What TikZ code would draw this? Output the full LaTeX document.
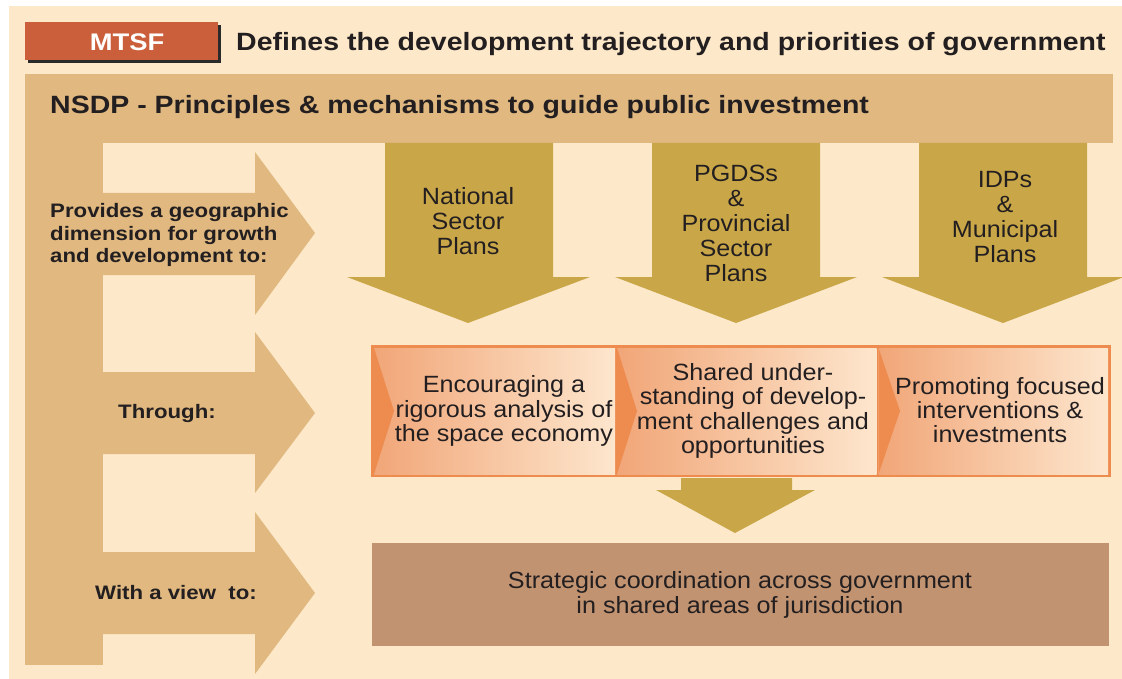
\documentclass[tikz,border=0pt]{standalone}
\usepackage{fontspec}
\setmainfont{Liberation Sans}[FakeStretch=1.07]
\newfontfamily\bfam{Liberation Sans}[FakeStretch=1.14]
\definecolor{bgc}{HTML}{FDE9C9}
\definecolor{band}{HTML}{E0B880}
\definecolor{gold}{HTML}{C9A648}
\definecolor{orng}{HTML}{EE8B4F}
\definecolor{panelL}{HTML}{F1A678}
\definecolor{panelR}{HTML}{FDE6CD}
\definecolor{boxc}{HTML}{C29371}
\definecolor{mtsfc}{HTML}{CB5F3B}
\definecolor{shadowc}{HTML}{2A2A2A}
\definecolor{txt}{HTML}{231F20}
\tikzset{
  plaintxt/.style={font=\fontsize{23.5}{25}\selectfont, text=txt, align=center, inner sep=0pt},
  boldtxt/.style={font=\bfam\bfseries\fontsize{19.5}{22.5}\selectfont, text=txt, inner sep=0pt},
  headtxt/.style={font=\bfam\bfseries\fontsize{25}{30}\selectfont, text=txt, inner sep=0pt},
  goldshape/.style={fill=gold},
  bandshape/.style={fill=band},
  panelshade/.style={left color=panelL, right color=panelR},
}
\begin{document}
\begin{tikzpicture}[x=1pt,y=-1pt]
\useasboundingbox (0,0) rectangle (1122,679);
\fill[white] (0,0) rectangle (1122,679);
\fill[bgc] (9,6) rectangle (1122,679);

% MTSF header
\fill[shadowc] (28,25) rectangle (221,63);
\fill[mtsfc] (25,22) rectangle (218,60);
\node[font=\bfam\bfseries\fontsize{24}{28}\selectfont, text=white, inner sep=0pt] (mtsf) at (127,42) {MTSF};
\node[headtxt, anchor=west] (defines) at (236,44) {Defines the development trajectory and priorities of government};

% NSDP band and left bar
\fill[bandshape] (25,74) rectangle (1113,143);
\fill[bandshape] (25,143) rectangle (103,665);
\node[headtxt, anchor=west] (nsdp) at (50,107) {NSDP - Principles \& mechanisms to guide public investment};

% left arrows
\fill[bandshape] (103,193) -- (255,193) -- (255,152) -- (315,233) -- (255,315) -- (255,275) -- (103,275) -- cycle;
\fill[bandshape] (103,372) -- (255,372) -- (255,332) -- (315,413) -- (255,493) -- (255,454) -- (103,454) -- cycle;
\fill[bandshape] (103,552) -- (255,552) -- (255,512) -- (315,593) -- (255,674) -- (255,634) -- (103,634) -- cycle;

\node[boldtxt, anchor=west, align=left] (provides) at (50,235) {Provides a geographic\\dimension for growth\\and development to:};
\node[boldtxt] (through) at (167,413) {Through:};
\node[boldtxt] (view) at (176,593) {With a view\ \ to:};

% gold down arrows
\fill[goldshape] (385,143) -- (553,143) -- (553,277) -- (590,277) -- (468,323) -- (347,277) -- (385,277) -- cycle;
\fill[goldshape] (652,143) -- (820,143) -- (820,277) -- (857,277) -- (736,323) -- (615,277) -- (652,277) -- cycle;
\fill[goldshape] (919,143) -- (1087,143) -- (1087,277) -- (1124,277) -- (1003,323) -- (882,277) -- (919,277) -- cycle;

\node[plaintxt] (nsp) at (468,221) {National\\Sector\\Plans};
\node[plaintxt] (pgds) at (736,223) {PGDSs\\\&\\Provincial\\Sector\\Plans};
\node[plaintxt] (idp) at (1005,217) {IDPs\\\&\\Municipal\\Plans};

% orange panels
\fill[orng] (371,345) rectangle (1111,477);
\shade[panelshade] (374,348) rectangle (615,474);
\shade[panelshade] (617,348) rectangle (876.5,474);
\shade[panelshade] (878.5,348) rectangle (1108,474);
\fill[orng] (374,348) -- (394,411) -- (374,474) -- cycle;
\fill[orng] (617,348) -- (637,411) -- (617,474) -- cycle;
\fill[orng] (878.5,348) -- (900,411) -- (878.5,474) -- cycle;

\node[plaintxt, font=\fontsize{23.5}{24.2}\selectfont] (enc) at (504,411) {Encouraging a\\rigorous analysis of\\the space economy};
\node[plaintxt, font=\fontsize{23.5}{24.6}\selectfont] (shared) at (753,411) {Shared under-\\standing of develop-\\ment challenges and\\opportunities};
\node[plaintxt, font=\fontsize{23.5}{24.2}\selectfont] (promo) at (1000,410) {Promoting focused\\interventions \&\\investments};

% small down arrow
\fill[goldshape] (681,478) -- (792,478) -- (792,490) -- (815,490) -- (735,533) -- (656,490) -- (681,490) -- cycle;

% bottom box
\fill[boxc] (372,543) rectangle (1109,646);
\node[plaintxt] (strat) at (740,595) {Strategic coordination across government\\in shared areas of jurisdiction};
\end{tikzpicture}
\end{document}
